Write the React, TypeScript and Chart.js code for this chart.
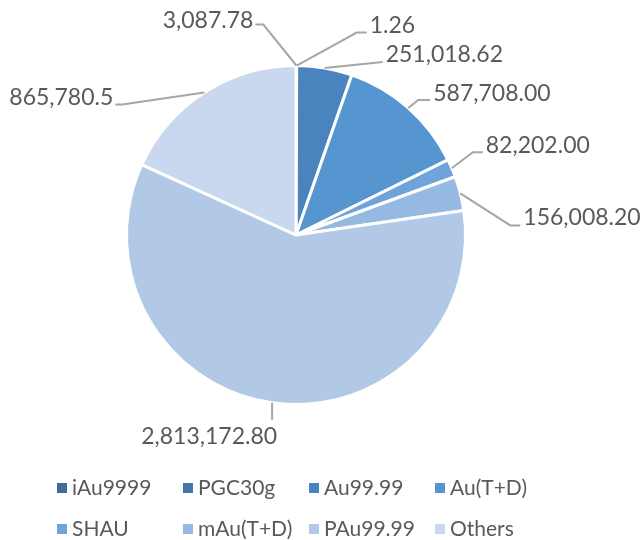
import React, { useEffect, useRef } from 'react';
import { Chart, registerables } from 'chart.js';

Chart.register(...registerables);

const categories = ['iAu9999', 'PGC30g', 'Au99.99', 'Au(T+D)', 'SHAU', 'mAu(T+D)', 'PAu99.99', 'Others'];
const values = [3087.78, 1.26, 251018.62, 587708.0, 82202.0, 156008.2, 2813172.8, 865780.5];
const decimals = [2, 2, 2, 2, 2, 2, 2, 1];
const colors = ['#3F6C98', '#4576AB', '#4A84BE', '#5596D1', '#6FA4DA', '#96B9E1', '#B1C8E6', '#C9D8EE'];

// leader-line shapes for the data labels (offsets from the slice edge midpoint)
const leaders = [
  { dx: -33, dy: -41, h: -8, side: 'left', ty: -4 },
  { dx: 60, dy: -33, h: 10, side: 'right', ty: -7 },
  { dx: 58, dy: -6, h: 0, side: 'right', ty: -7 },
  { dx: 10, dy: -8, h: 12, side: 'right', ty: -6 },
  { dx: 21, dy: -16, h: 10, side: 'right', ty: -7 },
  { dx: 50, dy: 32, h: 10, side: 'right', ty: -8 },
  { dx: 0, dy: 17, h: 0, side: 'below', ty: 17 },
  { dx: -82, dy: 12, h: -7, side: 'left', ty: -7 },
];

const FONT = 'Lato, "Noto Sans", sans-serif';

const fmt = (v: number, d: number) =>
  v.toLocaleString('en-US', { minimumFractionDigits: d, maximumFractionDigits: d });

const labelPlugin = {
  id: 'leaderLabels',
  afterDatasetsDraw(chart: any) {
    const ctx = chart.ctx;
    const meta = chart.getDatasetMeta(0);
    meta.data.forEach((arc: any, i: number) => {
      const { x, y, startAngle, endAngle, outerRadius } = arc.getProps(
        ['x', 'y', 'startAngle', 'endAngle', 'outerRadius'],
        true
      );
      const mid = (startAngle + endAngle) / 2;
      const ex = x + Math.cos(mid) * outerRadius;
      const ey = y + Math.sin(mid) * outerRadius;
      const L = leaders[i];
      const bx = ex + L.dx;
      const by = ey + L.dy;
      const px = bx + L.h;
      const py = by;
      ctx.save();
      ctx.strokeStyle = '#A6A6A6';
      ctx.lineWidth = 2;
      ctx.beginPath();
      ctx.moveTo(ex, ey);
      ctx.lineTo(bx, by);
      if (L.h) ctx.lineTo(px, py);
      ctx.stroke();
      ctx.fillStyle = '#595959';
      ctx.font = `23px ${FONT}`;
      ctx.textBaseline = 'middle';
      const text = fmt(values[i], decimals[i]);
      if (L.side === 'right') {
        ctx.textAlign = 'left';
        ctx.fillText(text, px + 3, py + L.ty);
      } else if (L.side === 'left') {
        ctx.textAlign = 'right';
        ctx.fillText(text, px - 2, py + L.ty);
      } else {
        ctx.textAlign = 'right';
        ctx.fillText(text, px + 5, py + L.ty);
      }
      ctx.restore();
    });
  },
};

const legendPlugin = {
  id: 'gridLegend',
  afterDraw(chart: any) {
    const ctx = chart.ctx;
    const cols = 4;
    const colW = 126;
    const x0 = 57;
    const rowY = [488, 529];
    ctx.save();
    ctx.font = `21px ${FONT}`;
    ctx.textBaseline = 'middle';
    ctx.textAlign = 'left';
    categories.forEach((c, i) => {
      const col = i % cols;
      const row = Math.floor(i / cols);
      const bx = x0 + col * colW;
      const by = rowY[row];
      ctx.fillStyle = colors[i];
      ctx.fillRect(bx, by - 5, 10, 10);
      ctx.fillStyle = '#595959';
      ctx.fillText(c, bx + 15, by);
    });
    ctx.restore();
  },
};

export default function App() {
  const ref = useRef<HTMLCanvasElement | null>(null);
  useEffect(() => {
    document.body.style.margin = '0';
    if (!ref.current) return;
    const chart = new Chart(ref.current, {
      type: 'pie',
      data: {
        labels: categories,
        datasets: [
          {
            data: values,
            backgroundColor: colors,
            borderColor: '#FFFFFF',
            borderWidth: 3,
          },
        ],
      },
      options: {
        animation: false,
        responsive: false,
        layout: { padding: { left: 125, right: 176, top: 64, bottom: 134 } },
        plugins: {
          legend: { display: false },
          tooltip: { enabled: false },
        },
      },
      plugins: [labelPlugin, legendPlugin],
    });
    return () => chart.destroy();
  }, []);
  return (
    <div style={{ width: 643, height: 540, background: '#fff' }}>
      <canvas ref={ref} width={643} height={540} style={{ display: 'block' }} />
    </div>
  );
}
